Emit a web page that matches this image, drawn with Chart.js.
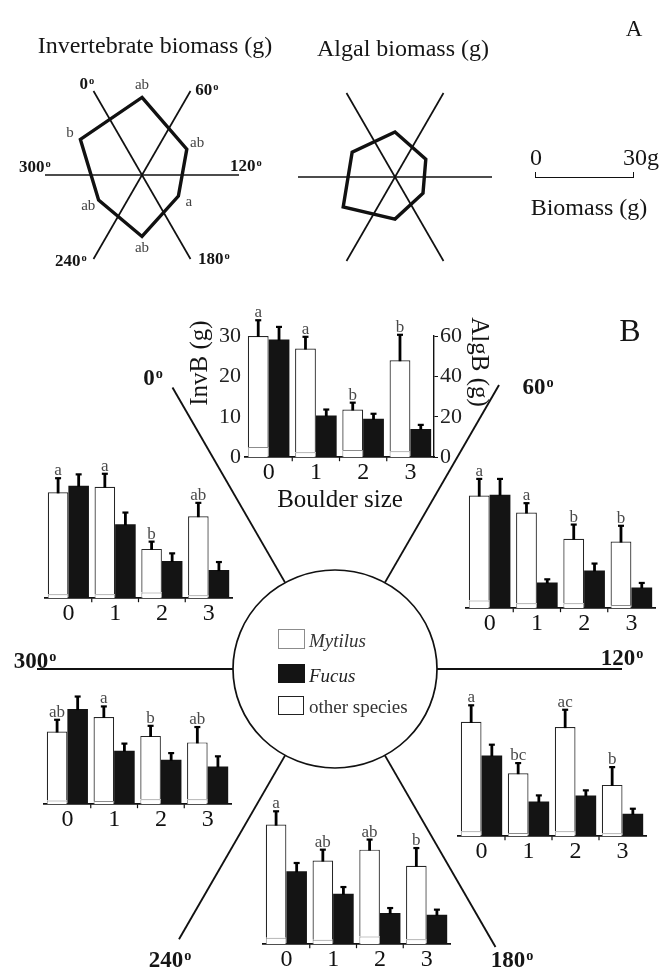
<!DOCTYPE html>
<html><head><meta charset="utf-8">
<script src="https://cdn.jsdelivr.net/npm/chart.js@4"></script>
<style>
html,body{margin:0;padding:0;background:#fff}
body{width:662px;height:967px;overflow:hidden;position:relative;font-family:'Liberation Serif','Times New Roman',serif;color:#151515}
.t{position:absolute;white-space:nowrap;line-height:1;z-index:5}
.c{transform:translate(-50%,-50%)}
.l{transform:translateY(-50%)}
.d{font-weight:bold;font-size:17px}
.dB{font-weight:bold;font-size:23px}
.o{font-size:.62em;position:relative;top:-.5em;margin-left:1px}
.bx{position:absolute;box-sizing:border-box;z-index:5}
canvas{position:absolute;z-index:1}
</style></head>
<body>
<!-- Part A texts -->
<div class="t c" style="left:155px;top:45px;font-size:24px">Invertebrate biomass (g)</div>
<div class="t c" style="left:403px;top:48px;font-size:24px">Algal biomass (g)</div>
<div class="t c" style="left:634px;top:28px;font-size:23px">A</div>
<div class="t c" style="left:536px;top:157px;font-size:24px">0</div>
<div class="t c" style="left:641px;top:157px;font-size:24px">30g</div>
<div class="bx" style="left:535px;top:172px;width:99px;height:6px;border:1.8px solid #111;border-top:none"></div>
<div class="t c" style="left:589px;top:207px;font-size:24px">Biomass (g)</div>
<div class="t c d" style="left:87px;top:83px">0<span class="o">o</span></div>
<div class="t c d" style="left:207px;top:89px">60<span class="o">o</span></div>
<div class="t c d" style="left:35px;top:166px">300<span class="o">o</span></div>
<div class="t c d" style="left:246px;top:165px">120<span class="o">o</span></div>
<div class="t c d" style="left:71px;top:260px">240<span class="o">o</span></div>
<div class="t c d" style="left:214px;top:258px">180<span class="o">o</span></div>
<!-- Part B texts -->
<div class="t c" style="left:630px;top:330px;font-size:32px">B</div>
<div class="t c dB" style="left:153px;top:377px">0<span class="o">o</span></div>
<div class="t c dB" style="left:538px;top:386px">60<span class="o">o</span></div>
<div class="t c dB" style="left:35px;top:660px">300<span class="o">o</span></div>
<div class="t c dB" style="left:622px;top:657px">120<span class="o">o</span></div>
<div class="t c dB" style="left:170px;top:959px">240<span class="o">o</span></div>
<div class="t c dB" style="left:512px;top:959px">180<span class="o">o</span></div>
<div class="t" style="left:198px;top:363px;font-size:25px;transform:translate(-50%,-50%) rotate(-90deg)">InvB (g)</div>
<div class="t" style="left:480px;top:362px;font-size:25px;transform:translate(-50%,-50%) rotate(90deg)">AlgB (g)</div>
<div class="t c" style="left:340px;top:498px;font-size:25px">Boulder size</div>
<!-- legend -->
<div class="bx" style="left:278px;top:629px;width:27px;height:20px;border:1.6px solid #8c8c8c;background:#fff"></div>
<div class="t l" style="left:309px;top:640px;font-size:19px;font-style:italic;color:#333">Mytilus</div>
<div class="bx" style="left:278px;top:664px;width:27px;height:19px;background:#141414"></div>
<div class="t l" style="left:309px;top:675px;font-size:19px;font-style:italic;color:#222">Fucus</div>
<div class="bx" style="left:278px;top:696px;width:26px;height:19px;border:1.5px solid #222;background:#fff"></div>
<div class="t l" style="left:309px;top:706px;font-size:19px;color:#333">other species</div>

<script>
// ---------------- DATA ----------------
const boulderSizes = ['0', '1', '2', '3'];
const sectorNames = ['0–60°', '60–120°', '120–180°', '180–240°', '240–300°', '300–360°'];
const spokeNames  = ['60°', '120°', '180°', '240°', '300°', '0°'];

// Part A: mean biomass per aspect sector (g)
const radarInvertebrate = [24, 16, 13, 19, 15.5, 22];
const radarAlgal        = [13.9, 11, 10, 13, 18.5, 15.3];
const radarInvLetters   = ['ab', 'ab', 'a', 'ab', 'ab', 'b'];

// Part B: sector 0–60°
const mytilus0 = [2.5, 1.2, 1.8, 1.5];
const otherSp0 = [27.5, 25.7, 10.0, 22.5];
const invSE0   = [3.9, 2.9, 1.7, 6.3];
const fucus0   = [58.3, 20.7, 19.0, 14.0];
const fucusSE0 = [6.2, 2.9, 2.5, 2.0];
const letters0 = ['a', 'a', 'b', 'b'];
// sector 60–120°
const mytilus60 = [1.9, 1.2, 1.2, 0.8];
const otherSp60 = [26.0, 22.5, 16.0, 15.7];
const invSE60   = [4.1, 2.3, 3.5, 3.9];
const fucus60   = [56.2, 12.7, 18.7, 10.3];
const fucusSE60 = [7.8, 1.6, 3.4, 2.2];
const letters60 = ['a', 'a', 'b', 'b'];
// sector 120–180°
const mytilus120 = [1.2, 0.8, 1.2, 0.7];
const otherSp120 = [27.1, 14.8, 25.8, 12.0];
const invSE120   = [4.1, 2.5, 4.3, 4.4];
const fucus120   = [40.0, 17.2, 20.2, 11.1];
const fucusSE120 = [5.3, 3.0, 2.5, 2.5];
const letters120 = ['a', 'bc', 'ac', 'b'];
// sector 180–240°
const mytilus180 = [1.6, 1.1, 1.9, 1.2];
const otherSp180 = [28.0, 19.6, 21.5, 18.2];
const invSE180   = [3.3, 2.7, 2.5, 4.4];
const fucus180   = [36.1, 25.0, 15.4, 14.6];
const fucusSE180 = [4.1, 3.3, 2.5, 2.5];
const letters180 = ['a', 'ab', 'ab', 'b'];
// sector 240–300°
const mytilus240 = [0.9, 0.8, 1.2, 1.2];
const otherSp240 = [17.1, 20.8, 15.7, 14.1];
const invSE240   = [2.9, 2.6, 2.5, 3.8];
const fucus240   = [47.1, 26.5, 22.0, 18.7];
const fucusSE240 = [6.2, 3.5, 3.3, 5.0];
const letters240 = ['ab', 'a', 'b', 'ab'];
// sector 300–360°
const mytilus300 = [1.0, 1.0, 1.4, 0.7];
const otherSp300 = [25.2, 26.6, 10.8, 19.6];
const invSE300   = [3.5, 3.2, 1.8, 3.3];
const fucus300   = [55.7, 36.6, 18.4, 13.9];
const fucusSE300 = [5.6, 5.8, 3.8, 4.0];
const letters300 = ['a', 'a', 'b', 'ab'];

// ---------------- LAYOUT ----------------
const hub = {cx: 335, cy: 669, rx: 102, ry: 99};
const hubSpokes = [
  {compass: -30, len: 325}, {compass: 30, len: 328}, {compass: 90, len: 287},
  {compass: 150, len: 321}, {compass: 210, len: 312}, {compass: 270, len: 298}
];
const radarPlaces = {inv: {cx: 142, cy: 175}, alg: {cx: 395, cy: 177}, size: 194};
const panelAreas = {
  s0:   {left: 244.5, bottom: 457, width: 188.5, height: 121},
  s60:  {left: 465.5, bottom: 608, width: 189, height: 121},
  s120: {left: 458, bottom: 836, width: 188, height: 121},
  s180: {left: 263, bottom: 944, width: 187, height: 121},
  s240: {left: 43.5, bottom: 804, width: 187, height: 121},
  s300: {left: 44.5, bottom: 598, width: 187, height: 121}
};

// ---------------- CHARTS ----------------
const SERIF = "'Liberation Serif','Times New Roman',serif";
Chart.defaults.font.family = SERIF;
Chart.defaults.color = '#151515';

function build(cfg, W, H) {
  const cv = document.createElement('canvas');
  cv.width = W; cv.height = H;
  cv.style.width = W + 'px'; cv.style.height = H + 'px';
  cv.style.left = '0px'; cv.style.top = '0px';
  document.body.appendChild(cv);
  return new Chart(cv, cfg);
}

// background: hub circle and radiating lines of part B
const hubPlugin = {
  id: 'hub',
  afterDraw(chart) {
    const ctx = chart.ctx;
    ctx.save();
    ctx.strokeStyle = '#111';
    ctx.lineWidth = 1.9;
    hubSpokes.forEach(s => {
      const a = s.compass * Math.PI / 180;
      const ux = Math.sin(a), uy = -Math.cos(a);
      const r0 = Math.hypot(hub.rx * ux, hub.ry * uy);
      ctx.beginPath();
      ctx.moveTo(hub.cx + ux * r0, hub.cy + uy * r0);
      ctx.lineTo(hub.cx + ux * s.len, hub.cy + uy * s.len);
      ctx.stroke();
    });
    ctx.lineWidth = 1.7;
    ctx.beginPath();
    ctx.ellipse(hub.cx, hub.cy, hub.rx, hub.ry, 0, 0, Math.PI * 2);
    ctx.stroke();
    ctx.restore();
  }
};
build({
  type: 'scatter',
  data: {datasets: []},
  options: {responsive: false, animation: false, events: [],
    plugins: {legend: {display: false}, tooltip: {enabled: false}},
    scales: {x: {display: false}, y: {display: false}}},
  plugins: [hubPlugin]
}, 662, 967);

// Part A radar charts
const radarLabels = [];
sectorNames.forEach((s, k) => { radarLabels.push(s, spokeNames[k]); });

const radarLetterPlugin = {
  id: 'radarLetters',
  afterDatasetsDraw(chart) {
    const ds = chart.data.datasets[0];
    if (!ds.letters) return;
    const sc = chart.scales.r, meta = chart.getDatasetMeta(0), ctx = chart.ctx;
    ctx.save();
    ctx.font = '15px ' + SERIF;
    ctx.fillStyle = '#444';
    ctx.textAlign = 'center';
    ctx.textBaseline = 'middle';
    meta.data.forEach((pt, i) => {
      const L = ds.letters[i];
      if (!L) return;
      const dx = pt.x - sc.xCenter, dy = pt.y - sc.yCenter, d = Math.hypot(dx, dy) || 1;
      ctx.fillText(L, pt.x + dx / d * 12, pt.y + dy / d * 12);
    });
    ctx.restore();
  }
};

function radarCfg(values, letters) {
  const data = [], lets = [];
  values.forEach((v, k) => { data.push(v, null); lets.push(letters ? letters[k] : null, null); });
  return {
    type: 'radar',
    data: {labels: radarLabels, datasets: [{
      data, letters: lets, spanGaps: true, fill: false,
      borderColor: '#111', borderWidth: 3.4, backgroundColor: 'rgba(0,0,0,0)',
      pointRadius: 0, borderJoinStyle: 'miter', tension: 0
    }]},
    options: {
      responsive: false, animation: false, events: [],
      plugins: {legend: {display: false}, tooltip: {enabled: false}},
      scales: {r: {
        min: 0, max: 30, startAngle: 0,
        grid: {display: false}, ticks: {display: false}, pointLabels: {display: false},
        angleLines: {display: true, color: '#111', lineWidth: c => (c.index % 2 ? 1.7 : 0)}
      }}
    },
    plugins: [radarLetterPlugin]
  };
}
function placeRadar(cfg, p) {
  const ch = build(cfg, radarPlaces.size, radarPlaces.size);
  const sc = ch.scales.r;
  ch.canvas.style.left = (p.cx - sc.xCenter) + 'px';
  ch.canvas.style.top = (p.cy - sc.yCenter) + 'px';
}
placeRadar(radarCfg(radarInvertebrate, radarInvLetters), radarPlaces.inv);
placeRadar(radarCfg(radarAlgal, null), radarPlaces.alg);

// Part B bar charts
const errorBarPlugin = {
  id: 'errorBars',
  afterDatasetsDraw(chart) {
    const ctx = chart.ctx;
    ctx.save();
    const xs = chart.scales.x, base = chart.chartArea.bottom;
    ctx.strokeStyle = '#111';
    ctx.lineWidth = 1.2;
    for (let i = 1; i < chart.data.labels.length; i++) {
      const x = (xs.getPixelForValue(i - 1) + xs.getPixelForValue(i)) / 2;
      ctx.beginPath(); ctx.moveTo(x, base); ctx.lineTo(x, base + 4); ctx.stroke();
    }
    chart.data.datasets.forEach((ds, di) => {
      if (!ds.errors) return;
      const meta = chart.getDatasetMeta(di);
      const sc = chart.scales[meta.yAxisID];
      const unit = sc.getPixelForValue(0) - sc.getPixelForValue(1);
      meta.data.forEach((bar, i) => {
        const top = bar.y - ds.errors[i] * unit;
        ctx.strokeStyle = '#000';
        ctx.lineWidth = 2.8;
        ctx.beginPath(); ctx.moveTo(bar.x, bar.y + 1); ctx.lineTo(bar.x, top); ctx.stroke();
        ctx.lineWidth = 2.2;
        ctx.beginPath(); ctx.moveTo(bar.x - 3, top); ctx.lineTo(bar.x + 3, top); ctx.stroke();
        if (ds.letters && ds.letters[i]) {
          ctx.fillStyle = '#4a4a4a';
          ctx.font = '17px ' + SERIF;
          ctx.textAlign = 'center';
          ctx.textBaseline = 'alphabetic';
          ctx.fillText(ds.letters[i], bar.x, top - 3);
        }
      });
    });
    ctx.restore();
  }
};

function barCfg(p, withAxes) {
  return {
    type: 'bar',
    data: {labels: boulderSizes, datasets: [
      {label: 'Mytilus', data: p.mytilus, yAxisID: 'y', stack: 'inv',
       backgroundColor: '#fff', borderColor: '#8c8c8c', borderWidth: 1},
      {label: 'other species', data: p.other, yAxisID: 'y', stack: 'inv',
       backgroundColor: '#fff', borderColor: '#262626', borderWidth: 1.2, errors: p.invSE, letters: p.letters},
      {label: 'Fucus', data: p.fucus, yAxisID: 'y1', stack: 'alg',
       backgroundColor: '#141414', borderColor: '#141414', borderWidth: 0, errors: p.fucusSE}
    ]},
    options: {
      responsive: false, animation: false, events: [],
      layout: {padding: {top: 44, left: 4, right: 4, bottom: 0}},
      plugins: {legend: {display: false}, tooltip: {enabled: false}},
      datasets: {bar: {categoryPercentage: 0.88, barPercentage: 1}},
      scales: {
        x: {stacked: true, grid: {display: false, drawTicks: false},
            border: {display: true, color: '#111', width: 1.8},
            ticks: {padding: 1, color: '#111', font: {size: 24}}},
        y: {stacked: true, min: 0, max: 30, display: withAxes, position: 'left',
            grid: {display: false, drawTicks: false}, border: {display: false},
            ticks: {stepSize: 10, padding: 4, color: '#222', font: {size: 22}}},
        y1: {stacked: true, min: 0, max: 60, display: withAxes, position: 'right',
             grid: {display: true, drawOnChartArea: false, drawTicks: true, tickLength: 4, color: '#111'},
             border: {display: true, color: '#111', width: 1.4},
             ticks: {stepSize: 10, padding: 2, color: '#222', font: {size: 22},
                     callback: v => (v % 20 === 0 ? v : '')}}
      }
    },
    plugins: [errorBarPlugin]
  };
}

function placeBarChart(p, area, withAxes) {
  let W = Math.round(area.width + 90), H = Math.round(area.height + 110);
  let ch = build(barCfg(p, withAxes), W, H);
  let cv = ch.canvas;
  let ca = ch.chartArea;
  W = Math.round(W + area.width - (ca.right - ca.left));
  H = Math.round(H + area.height - (ca.bottom - ca.top));
  ch.destroy();
  cv.remove();
  ch = build(barCfg(p, withAxes), W, H);
  ca = ch.chartArea;
  ch.canvas.style.left = (area.left - ca.left) + 'px';
  ch.canvas.style.top = (area.bottom - ca.bottom) + 'px';
  return ch;
}

placeBarChart({mytilus: mytilus0, other: otherSp0, invSE: invSE0, fucus: fucus0, fucusSE: fucusSE0, letters: letters0}, panelAreas.s0, true);
placeBarChart({mytilus: mytilus60, other: otherSp60, invSE: invSE60, fucus: fucus60, fucusSE: fucusSE60, letters: letters60}, panelAreas.s60, false);
placeBarChart({mytilus: mytilus120, other: otherSp120, invSE: invSE120, fucus: fucus120, fucusSE: fucusSE120, letters: letters120}, panelAreas.s120, false);
placeBarChart({mytilus: mytilus180, other: otherSp180, invSE: invSE180, fucus: fucus180, fucusSE: fucusSE180, letters: letters180}, panelAreas.s180, false);
placeBarChart({mytilus: mytilus240, other: otherSp240, invSE: invSE240, fucus: fucus240, fucusSE: fucusSE240, letters: letters240}, panelAreas.s240, false);
placeBarChart({mytilus: mytilus300, other: otherSp300, invSE: invSE300, fucus: fucus300, fucusSE: fucusSE300, letters: letters300}, panelAreas.s300, false);
</script>
</body></html>
